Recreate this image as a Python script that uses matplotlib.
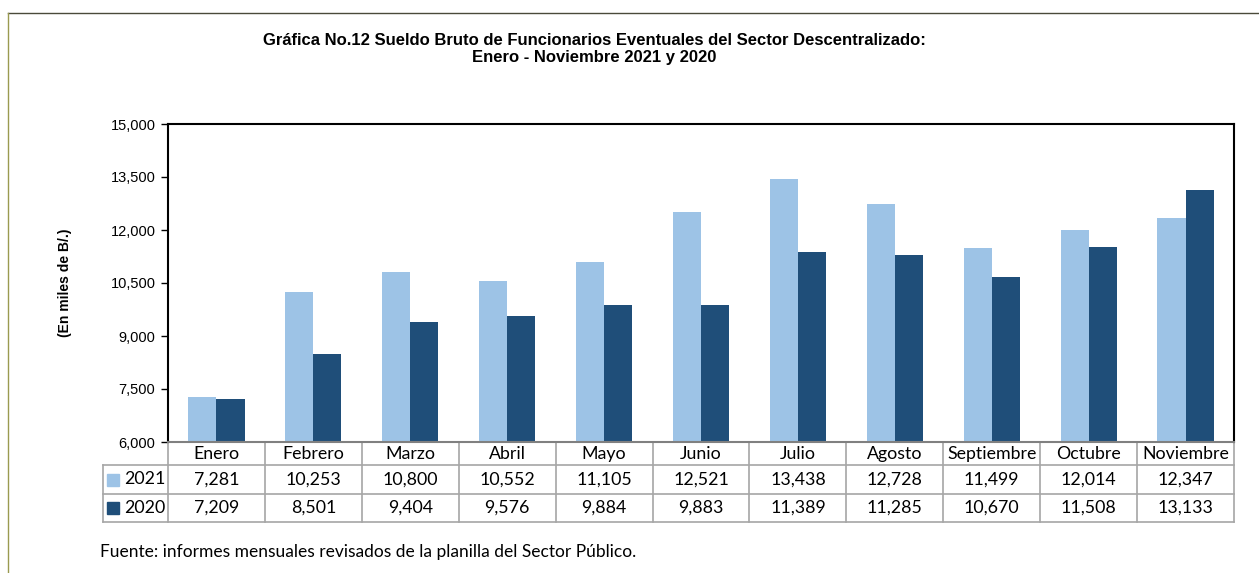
import matplotlib.pyplot as plt
import matplotlib.transforms as mtransforms
from matplotlib.patches import Rectangle
from matplotlib.lines import Line2D

meses = ["Enero", "Febrero", "Marzo", "Abril", "Mayo", "Junio", "Julio",
         "Agosto", "Septiembre", "Octubre", "Noviembre"]
v2021 = [7281, 10253, 10800, 10552, 11105, 12521, 13438, 12728, 11499, 12014, 12347]
v2020 = [7209, 8501, 9404, 9576, 9884, 9883, 11389, 11285, 10670, 11508, 13133]
series = ["2021", "2020"]
colores = ["#9DC3E6", "#1F4E79"]
yticks = [6000, 7500, 9000, 10500, 12000, 13500, 15000]

W, H = 1259, 573
fig = plt.figure(figsize=(W / 100, H / 100), dpi=100)

# axes position in pixels
x0, x1, y0, y1 = 168, 1234, 124, 442
ax = fig.add_axes([x0 / W, 1 - y1 / H, (x1 - x0) / W, (y1 - y0) / H])

n = len(meses)
x = list(range(n))
bw = 0.29
ax.bar([i - bw / 2 for i in x], v2021, width=bw, color=colores[0])
ax.bar([i + bw / 2 for i in x], v2020, width=bw, color=colores[1])

ax.set_xlim(-0.5, n - 0.5)
ax.set_ylim(6000, 15000)
ax.set_yticks(yticks)
ax.set_yticklabels([f"{v:,}" for v in yticks], family="Liberation Sans", fontsize=10.5)
ax.tick_params(axis="y", length=5, width=1, pad=4, direction="out")
ax.set_xticks([])
for s in ["left", "top", "right"]:
    ax.spines[s].set_linewidth(1.5)
    ax.spines[s].set_color("black")
ax.spines["bottom"].set_color("#808080")
ax.spines["bottom"].set_linewidth(1.5)

ax.set_ylabel("(En miles de B/.)", family="Liberation Sans", fontweight="bold",
              fontsize=10, labelpad=28)

# data table under the axes, drawn by hand
ph = y1 - y0          # axes height in px
def ya(py):           # pixel row -> axes y
    return (y1 - py) / ph

trans = mtransforms.blended_transform_factory(ax.transData, ax.transAxes)
grid = "#a6a6a6"
lab_left = ax.get_xlim()[0] - (x0 - 103) / ((x1 - x0) / n)
rows_y = [442, 465, 494, 522]

def hline(xa, xb, py):
    ax.add_line(Line2D([xa, xb], [ya(py), ya(py)], transform=trans, color=grid,
                       lw=1.2, clip_on=False))

def vline(xx, pa, pb):
    ax.add_line(Line2D([xx, xx], [ya(pa), ya(pb)], transform=trans, color=grid,
                       lw=1.2, clip_on=False))

for py in rows_y[1:]:
    hline(lab_left, n - 0.5, py)
for k in range(n + 1):
    vline(k - 0.5, 442, 522)
vline(lab_left, 465, 522)

tfont = dict(family="Lato", fontsize=12.8, ha="center", va="center", clip_on=False)
for i, m in enumerate(meses):
    ax.text(i, ya(454), m, transform=trans, **tfont)
for r, vals in enumerate([v2021, v2020]):
    yc = (rows_y[r + 1] + rows_y[r + 2]) / 2
    for i, v in enumerate(vals):
        ax.text(i, ya(yc), f"{v:,}", transform=trans, **tfont)
    ax.text(124 / W, 1 - yc / H, series[r], transform=fig.transFigure,
            family="Lato", fontsize=12.8, ha="left", va="center")
    fig.patches.append(Rectangle((107 / W, 1 - (yc + 6) / H), 12 / W, 12 / H,
                                 transform=fig.transFigure, color=colores[r]))

fig.text(594 / W, 1 - 49 / H,
         "Gráfica No.12 Sueldo Bruto de Funcionarios Eventuales del Sector Descentralizado:\n"
         "Enero - Noviembre 2021 y 2020",
         ha="center", va="center", family="Liberation Sans", fontweight="bold",
         fontsize=12, linespacing=1.1)

fig.text(100 / W, 1 - 552 / H,
         "Fuente: informes mensuales revisados de la planilla del Sector Público.",
         ha="left", va="center", family="Lato", fontsize=12.5)

# outer frame (top and left edges visible)
fig.lines.append(Line2D([8 / W, 1], [1 - 13 / H, 1 - 13 / H], transform=fig.transFigure,
                        color="#4a4a3a", lw=1))
fig.lines.append(Line2D([8 / W, 8 / W], [0, 1 - 13 / H], transform=fig.transFigure,
                        color="#9a9a50", lw=1))

fig.savefig("out.png", dpi=100)
